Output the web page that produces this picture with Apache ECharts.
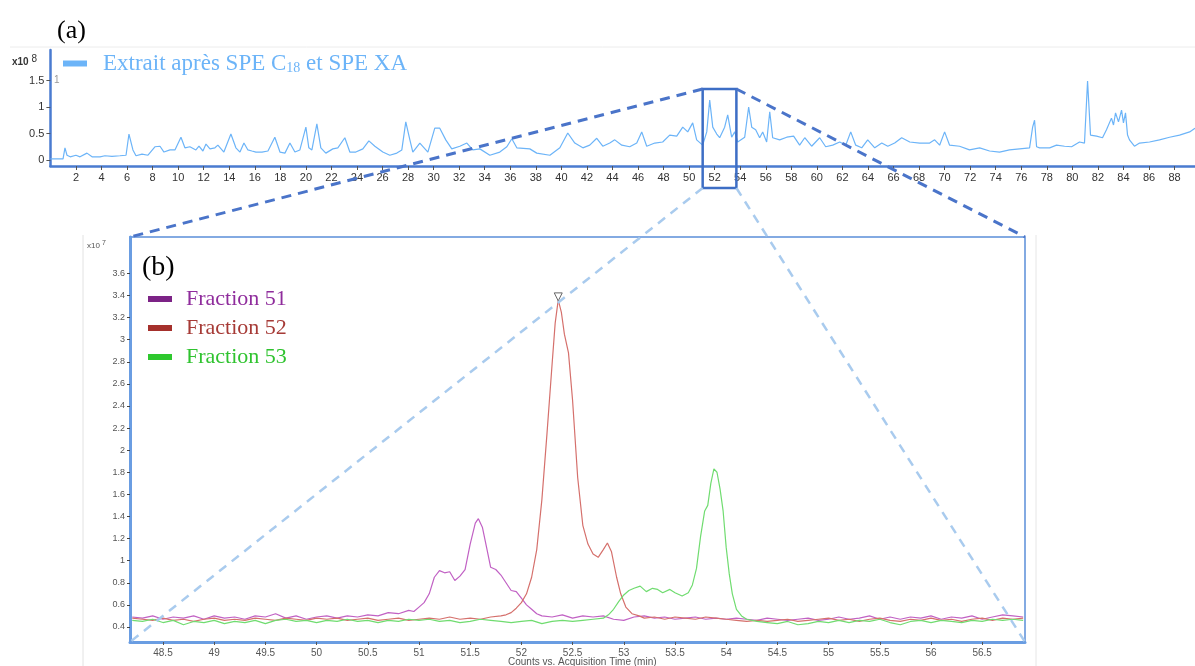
<!DOCTYPE html>
<html><head><meta charset="utf-8">
<script src="https://cdn.jsdelivr.net/npm/echarts@6/dist/echarts.min.js"></script>
<style>html,body{margin:0;padding:0;background:#fff}#c{width:1195px;height:666px}</style>
</head><body><div id="c"></div>
<script>
// ---- tick labels ----
const topXTicks = [2,4,6,8,10,12,14,16,18,20,22,24,26,28,30,32,34,36,38,40,42,44,46,48,50,52,54,56,58,60,62,64,66,68,70,72,74,76,78,80,82,84,86,88];
const topYTicks = [0,0.5,1,1.5];
const zoomXTicks = [48.5,49,49.5,50,50.5,51,51.5,52,52.5,53,53.5,54,54.5,55,55.5,56,56.5];
const zoomYTicks = [0.4,0.6,0.8,1,1.2,1.4,1.6,1.8,2,2.2,2.4,2.6,2.8,3,3.2,3.4,3.6];

// ---- series names ----
const topName = 'Extrait après SPE C18 et SPE XA';
const fractionNames = ['Fraction 51','Fraction 52','Fraction 53'];

// ---- (a) full chromatogram: [time (min), counts x10^8] ----
const topTrace = [
[0,0.02],[0.99,0.02],[1.14,0.23],[1.3,0.09],[1.55,0.06],[2.0,0.09],[2.32,0.06],[2.86,0.13],[3.26,0.06],[3.88,0.06],[4.27,0.08],[4.82,0.07],[5.44,0.08],[5.92,0.09],
[6.15,0.49],[6.46,0.19],[6.7,0.08],[7.17,0.11],[7.64,0.09],[8.18,0.25],[8.58,0.26],[8.89,0.15],[9.36,0.19],[9.75,0.19],[10.22,0.43],[10.53,0.23],[10.92,0.25],
[11.39,0.19],[11.63,0.26],[11.94,0.17],[12.18,0.3],[12.49,0.21],[12.88,0.23],[13.11,0.28],[13.58,0.15],[14.13,0.49],[14.52,0.23],[14.84,0.15],[15.15,0.32],
[15.46,0.19],[15.77,0.17],[16.09,0.15],[16.56,0.15],[17.03,0.17],[17.57,0.43],[17.97,0.15],[18.36,0.13],[18.75,0.32],[19.14,0.15],[19.53,0.19],[20.0,0.62],
[20.23,0.23],[20.47,0.19],[20.86,0.68],[21.17,0.23],[21.56,0.13],[22.11,0.21],[22.5,0.23],[23.05,0.42],[23.44,0.15],[23.91,0.15],[24.46,0.21],[24.93,0.36],
[25.4,0.26],[26.02,0.15],[26.57,0.09],[27.12,0.13],[27.51,0.19],[27.82,0.72],[28.14,0.38],[28.37,0.15],[28.92,0.32],[29.55,0.15],[30.09,0.6],[30.48,0.6],
[30.95,0.38],[31.42,0.21],[32.05,0.26],[32.6,0.32],[33.07,0.19],[33.62,0.21],[34.4,0.09],[35.18,0.15],[35.73,0.25],[36.12,0.4],[36.51,0.23],[37.53,0.21],
[38.07,0.13],[39.1,0.09],[39.88,0.23],[40.5,0.51],[41.05,0.32],[41.68,0.23],[42.22,0.28],[42.77,0.41],[43.24,0.26],[43.79,0.32],[44.18,0.38],[44.73,0.28],
[45.35,0.25],[45.9,0.32],[46.29,0.53],[46.68,0.26],[47.31,0.32],[47.93,0.34],[48.48,0.47],[49.03,0.45],[49.5,0.62],[49.89,0.53],[50.28,0.7],[50.59,0.38],
[51.06,0.28],[51.38,0.53],[51.61,1.13],[51.85,0.62],[52.16,0.49],[52.39,0.42],[52.78,0.62],[53.02,0.85],[53.33,0.43],[53.57,0.53],[53.8,0.34],[54.35,0.43],
[54.66,1.0],[54.9,0.62],[55.21,0.57],[55.52,0.42],[55.76,0.53],[56.07,0.34],[56.31,0.91],[56.54,0.42],[57.09,0.38],[57.64,0.43],[58.18,0.45],[58.65,0.28],
[59.05,0.42],[59.59,0.26],[60.22,0.42],[60.69,0.25],[61.24,0.28],[61.79,0.34],[62.26,0.28],[62.65,0.53],[63.04,0.28],[63.51,0.23],[63.98,0.38],[64.53,0.23],
[65.08,0.32],[65.55,0.26],[66.09,0.32],[66.64,0.42],[67.27,0.34],[68.05,0.32],[68.83,0.32],[69.22,0.38],[69.61,0.28],[70.0,0.53],[70.39,0.28],[71.17,0.26],
[71.95,0.19],[72.74,0.23],[73.52,0.17],[74.3,0.15],[75.08,0.19],[75.87,0.21],[76.65,0.23],[76.89,0.62],[77.04,0.75],[77.2,0.25],[77.43,0.23],[78.22,0.23],
[78.76,0.28],[79.39,0.26],[79.94,0.25],[80.56,0.34],[80.95,0.32],[81.19,1.49],[81.42,0.47],[81.89,0.45],[82.36,0.42],[82.67,0.57],[83.06,0.79],[83.22,0.66],
[83.38,0.89],[83.61,0.72],[83.85,0.94],[84.0,0.7],[84.16,0.89],[84.32,0.47],[84.47,0.38],[84.86,0.26],[85.26,0.32],[86.04,0.34],[86.82,0.38],[87.61,0.43],
[88.39,0.47],[89.18,0.53],[89.6,0.6]
];

// ---- (b) zoom: [time (min), counts x10^7] ----
const fraction51 = [
[48.2,0.49],[48.3,0.48],[48.4,0.5],[48.5,0.47],[48.6,0.49],[48.7,0.48],[48.8,0.5],[48.9,0.47],[49.0,0.5],[49.1,0.48],[49.2,0.49],[49.3,0.47],[49.4,0.5],
[49.5,0.49],[49.6,0.52],[49.7,0.48],[49.8,0.5],[49.9,0.47],[50.0,0.49],[50.1,0.5],[50.2,0.48],[50.3,0.5],[50.4,0.49],[50.5,0.51],[50.6,0.5],[50.7,0.53],
[50.8,0.52],[50.9,0.55],[50.95,0.54],[51.0,0.58],[51.05,0.62],[51.1,0.7],[51.15,0.85],[51.2,0.91],[51.25,0.89],[51.3,0.9],[51.35,0.82],[51.4,0.86],[51.45,0.92],
[51.5,1.15],[51.55,1.34],[51.58,1.38],[51.62,1.3],[51.66,1.12],[51.7,0.94],[51.75,0.92],[51.8,0.87],[51.85,0.8],[51.9,0.73],[51.95,0.72],[52.0,0.66],[52.05,0.6],
[52.1,0.56],[52.15,0.52],[52.2,0.5],[52.3,0.49],[52.4,0.51],[52.5,0.48],[52.6,0.5],[52.7,0.49],[52.8,0.5],[52.9,0.47],[53.0,0.46],[53.1,0.49],[53.2,0.5],
[53.3,0.48],[53.4,0.49],[53.5,0.47],[53.6,0.48],[53.7,0.49],[53.8,0.47],[53.9,0.48],[54.0,0.47],[54.1,0.48],[54.2,0.47],[54.3,0.46],[54.4,0.48],[54.5,0.47],
[54.6,0.46],[54.7,0.47],[54.8,0.48],[54.9,0.46],[55.0,0.47],[55.1,0.49],[55.2,0.47],[55.3,0.48],[55.4,0.5],[55.5,0.47],[55.6,0.49],[55.7,0.47],[55.8,0.49],
[55.9,0.48],[56.0,0.5],[56.1,0.47],[56.2,0.49],[56.3,0.48],[56.4,0.5],[56.5,0.47],[56.6,0.49],[56.7,0.51],[56.8,0.5],[56.9,0.49]
];
const fraction52 = [
[48.2,0.48],[48.3,0.47],[48.4,0.46],[48.5,0.48],[48.6,0.46],[48.7,0.47],[48.8,0.45],[48.9,0.47],[49.0,0.48],[49.1,0.46],[49.2,0.47],[49.3,0.46],[49.4,0.48],
[49.5,0.47],[49.6,0.46],[49.7,0.48],[49.8,0.47],[49.9,0.46],[50.0,0.48],[50.1,0.47],[50.2,0.48],[50.3,0.46],[50.4,0.47],[50.5,0.48],[50.6,0.46],[50.7,0.47],
[50.8,0.48],[50.9,0.46],[51.0,0.47],[51.1,0.48],[51.2,0.47],[51.3,0.49],[51.4,0.47],[51.5,0.48],[51.6,0.47],[51.7,0.49],[51.8,0.5],[51.85,0.51],[51.9,0.53],
[51.95,0.57],[52.0,0.62],[52.05,0.7],[52.1,0.85],[52.15,1.1],[52.2,1.55],[52.25,2.15],[52.3,2.78],[52.33,3.15],[52.36,3.36],[52.39,3.25],[52.42,3.05],
[52.46,2.88],[52.5,2.45],[52.55,1.75],[52.6,1.32],[52.65,1.15],[52.7,1.06],[52.75,1.03],[52.8,1.1],[52.84,1.16],[52.88,1.08],[52.93,0.85],[52.97,0.7],
[53.02,0.58],[53.08,0.52],[53.15,0.5],[53.2,0.48],[53.3,0.49],[53.4,0.47],[53.5,0.49],[53.6,0.48],[53.7,0.47],[53.8,0.49],[53.9,0.48],[54.0,0.47],[54.1,0.46],
[54.2,0.45],[54.3,0.46],[54.4,0.45],[54.5,0.46],[54.6,0.47],[54.7,0.45],[54.8,0.46],[54.9,0.47],[55.0,0.48],[55.1,0.46],[55.2,0.47],[55.3,0.45],[55.4,0.47],
[55.5,0.48],[55.6,0.46],[55.7,0.45],[55.8,0.47],[55.9,0.46],[56.0,0.48],[56.1,0.46],[56.2,0.47],[56.3,0.45],[56.4,0.47],[56.5,0.48],[56.6,0.46],[56.7,0.48],
[56.8,0.47],[56.9,0.48]
];
const fraction53 = [
[48.2,0.46],[48.3,0.45],[48.4,0.47],[48.5,0.44],[48.6,0.46],[48.7,0.42],[48.8,0.45],[48.9,0.44],[49.0,0.46],[49.1,0.43],[49.2,0.45],[49.3,0.44],[49.4,0.46],
[49.5,0.43],[49.6,0.46],[49.7,0.47],[49.8,0.45],[49.9,0.46],[50.0,0.44],[50.1,0.46],[50.2,0.45],[50.3,0.47],[50.4,0.45],[50.5,0.46],[50.6,0.44],[50.7,0.46],
[50.8,0.45],[50.9,0.47],[51.0,0.46],[51.1,0.47],[51.2,0.45],[51.3,0.46],[51.4,0.44],[51.5,0.45],[51.6,0.47],[51.7,0.46],[51.8,0.45],[51.9,0.44],[52.0,0.45],
[52.1,0.46],[52.2,0.43],[52.3,0.45],[52.4,0.46],[52.5,0.45],[52.6,0.46],[52.7,0.47],[52.8,0.48],[52.85,0.51],[52.9,0.56],[52.95,0.63],[53.0,0.69],[53.05,0.73],
[53.1,0.75],[53.16,0.77],[53.22,0.72],[53.28,0.75],[53.33,0.74],[53.38,0.71],[53.45,0.74],[53.5,0.71],[53.57,0.68],[53.63,0.71],[53.67,0.78],[53.71,0.93],
[53.75,1.22],[53.79,1.45],[53.82,1.5],[53.85,1.7],[53.88,1.83],[53.91,1.8],[53.94,1.65],[53.97,1.45],[54.0,1.12],[54.03,0.88],[54.06,0.7],[54.1,0.56],
[54.15,0.5],[54.2,0.47],[54.3,0.45],[54.4,0.44],[54.5,0.43],[54.6,0.45],[54.7,0.42],[54.8,0.43],[54.9,0.45],[55.0,0.44],[55.1,0.46],[55.2,0.44],[55.3,0.46],
[55.4,0.45],[55.5,0.47],[55.6,0.44],[55.7,0.42],[55.8,0.45],[55.9,0.46],[56.0,0.44],[56.1,0.46],[56.2,0.45],[56.3,0.44],[56.4,0.46],[56.5,0.45],[56.6,0.47],
[56.7,0.46],[56.8,0.47],[56.9,0.46]
];
const peakMarker = [52.36, 3.36];
const zoomWindow = [51.06, 53.7];

const chart = echarts.init(document.getElementById('c'), null, {renderer:'canvas'});
const SANS = 'Liberation Sans, Arial, sans-serif';
const SERIF = 'Liberation Serif, Times New Roman, serif';
const frameBlue = '#5b8fd9';

const option = {
  animation:false,
  backgroundColor:'#fff',
  grid:[
    {left:50.4, right:0, top:50, bottom:500},
    {left:130, right:170, top:237, bottom:24, show:true, borderColor:frameBlue, borderWidth:1.5, backgroundColor:'rgba(0,0,0,0)'}
  ],
  xAxis:[
    {gridIndex:0, type:'value', min:0, max:89.6,
     axisLine:{onZero:false, lineStyle:{color:'#4a7bd0', width:2.5}},
     axisTick:{customValues:topXTicks, length:4, lineStyle:{color:'#555'}},
     axisLabel:{customValues:topXTicks, fontSize:11, color:'#333', margin:6, fontFamily:SANS},
     splitLine:{show:false}},
    {gridIndex:1, type:'value', min:48.178, max:56.918,
     axisLine:{onZero:false, lineStyle:{color:'#6a9de2', width:3}},
     axisTick:{customValues:zoomXTicks, length:3, lineStyle:{color:'#555'}},
     axisLabel:{customValues:zoomXTicks, fontSize:10, color:'#555', margin:6, fontFamily:SANS},
     splitLine:{show:false}}
  ],
  yAxis:[
    {gridIndex:0, type:'value', min:-0.113, max:2.075,
     axisLine:{show:true, onZero:false, lineStyle:{color:'#4a7bd0', width:2.5}},
     axisTick:{show:true, customValues:topYTicks, length:4, lineStyle:{color:'#555'}},
     axisLabel:{customValues:topYTicks, fontSize:11, color:'#333', margin:6, fontFamily:SANS},
     splitLine:{show:false}},
    {gridIndex:1, type:'value', min:0.264, max:3.929,
     axisLine:{show:true, onZero:false, lineStyle:{color:'#6a9de2', width:3}},
     axisTick:{show:true, customValues:zoomYTicks, length:3, lineStyle:{color:'#444'}},
     axisLabel:{customValues:zoomYTicks, fontSize:9, color:'#555', margin:5, fontFamily:SANS},
     splitLine:{show:false}}
  ],
  legend:[
    {data:[{name:topName, itemStyle:{color:'#6cb4f8'}}], left:63, top:52, padding:0, icon:'rect', itemWidth:24, itemHeight:6, itemGap:16,
     selectedMode:false,
     formatter:()=> 'Extrait après SPE C{s|18} et SPE XA',
     textStyle:{fontFamily:SERIF, fontSize:23, color:'#6cb4f8', padding:[0,0,0,11],
       rich:{s:{fontFamily:SERIF, fontSize:14, color:'#6cb4f8', verticalAlign:'bottom', padding:[10,0,0,0]}}}},
    {orient:'vertical', left:148, top:288, padding:0, itemGap:7, icon:'rect', itemWidth:24, itemHeight:6, selectedMode:false,
     textStyle:{fontFamily:SERIF, fontSize:22, padding:[0,0,0,9]},
     data:[
       {name:fractionNames[0], itemStyle:{color:'#7c2386'}, textStyle:{color:'#8f2c9c'}},
       {name:fractionNames[1], itemStyle:{color:'#a5302c'}, textStyle:{color:'#a63a36'}},
       {name:fractionNames[2], itemStyle:{color:'#2ec82e'}, textStyle:{color:'#2fc32f'}}
     ]}
  ],
  series:[
    {name:topName, type:'line', xAxisIndex:0, yAxisIndex:0, data:topTrace, showSymbol:false, symbol:'none',
     lineStyle:{color:'#6cb4f8', width:1.2}, itemStyle:{color:'#6cb4f8'}, silent:true},
    {name:fractionNames[0], type:'line', xAxisIndex:1, yAxisIndex:1, data:fraction51, symbol:'none',
     lineStyle:{color:'#c161c4', width:1.2}, itemStyle:{color:'#c161c4'}, silent:true},
    {name:fractionNames[1], type:'line', xAxisIndex:1, yAxisIndex:1, data:fraction52, symbol:'none',
     lineStyle:{color:'#d5706c', width:1.2}, itemStyle:{color:'#d5706c'}, silent:true,
     markPoint:{symbol:'triangle', symbolRotate:180, symbolSize:8, symbolOffset:[0,-3], label:{show:false},
       itemStyle:{color:'#fff', borderColor:'#666', borderWidth:1},
       data:[{coord:peakMarker}]}},
    {name:fractionNames[2], type:'line', xAxisIndex:1, yAxisIndex:1, data:fraction53, symbol:'none',
     lineStyle:{color:'#70dc70', width:1.2}, itemStyle:{color:'#70dc70'}, silent:true}
  ]
};
chart.setOption(option);

// decorations computed from the axes
const pTL = chart.convertToPixel({xAxisIndex:0, yAxisIndex:0}, [zoomWindow[0], 1.34]);
const pBR = chart.convertToPixel({xAxisIndex:0, yAxisIndex:0}, [zoomWindow[1], -0.113]);
const bx0 = pTL[0], bx1 = pBR[0], by0 = pTL[1], by1 = pBR[1] + 22;
const g0 = chart.convertToPixel({xAxisIndex:1, yAxisIndex:1}, [48.178, 3.929]);
const g1 = chart.convertToPixel({xAxisIndex:1, yAxisIndex:1}, [56.918, 0.264]);
const darkDash = {stroke:'#4a74c9', lineWidth:3, lineDash:[10,7]};
const lightDash = {stroke:'#a9cbee', lineWidth:2.5, lineDash:[9,7]};
chart.setOption({graphic:[
  {type:'line', shape:{x1:10,y1:47,x2:1195,y2:47}, style:{stroke:'#ececec', lineWidth:1}, z:0, silent:true},
  {type:'line', shape:{x1:83,y1:235,x2:83,y2:666}, style:{stroke:'#e2e2e2', lineWidth:1}, z:0, silent:true},
  {type:'line', shape:{x1:1036,y1:235,x2:1036,y2:666}, style:{stroke:'#e6e6e6', lineWidth:1}, z:0, silent:true},
  {type:'text', left:57, top:18, style:{text:'(a)', font:'26px '+SERIF, fill:'#000'}, z:10},
  {type:'text', left:142, top:254, style:{text:'(b)', font:'28px '+SERIF, fill:'#000'}, z:10},
  {type:'text', left:12, top:54, style:{text:'x10 {s|8}', font:'bold 10px '+SANS, fill:'#333',
     rich:{s:{font:'10px '+SANS, fill:'#333', padding:[0,0,6,0]}}}, z:10},
  {type:'text', left:54, top:75, style:{text:'1', font:'10px '+SANS, fill:'#999'}, z:10},
  {type:'text', left:87, top:240, style:{text:'x10 {s|7}', font:'8px '+SANS, fill:'#555',
     rich:{s:{font:'7px '+SANS, fill:'#555', padding:[0,0,4,0]}}}, z:10},
  {type:'text', left:508, top:657, style:{text:'Counts vs. Acquisition Time (min)', font:'10px '+SANS, fill:'#555'}, z:10},
  {type:'rect', shape:{x:bx0, y:by0, width:bx1-bx0, height:by1-by0}, style:{fill:'none', stroke:'#3d6ec5', lineWidth:2.5}, z:20, silent:true},
  {type:'line', shape:{x1:bx0,y1:by0,x2:g0[0],y2:g0[1]}, style:darkDash, z:20, silent:true},
  {type:'line', shape:{x1:bx1,y1:by0,x2:g1[0],y2:g0[1]}, style:darkDash, z:20, silent:true},
  {type:'line', shape:{x1:bx0,y1:by1,x2:g0[0],y2:g1[1]}, style:lightDash, z:20, silent:true},
  {type:'line', shape:{x1:bx1,y1:by1,x2:g1[0],y2:g1[1]}, style:lightDash, z:20, silent:true}
]});
</script>
</body></html>
